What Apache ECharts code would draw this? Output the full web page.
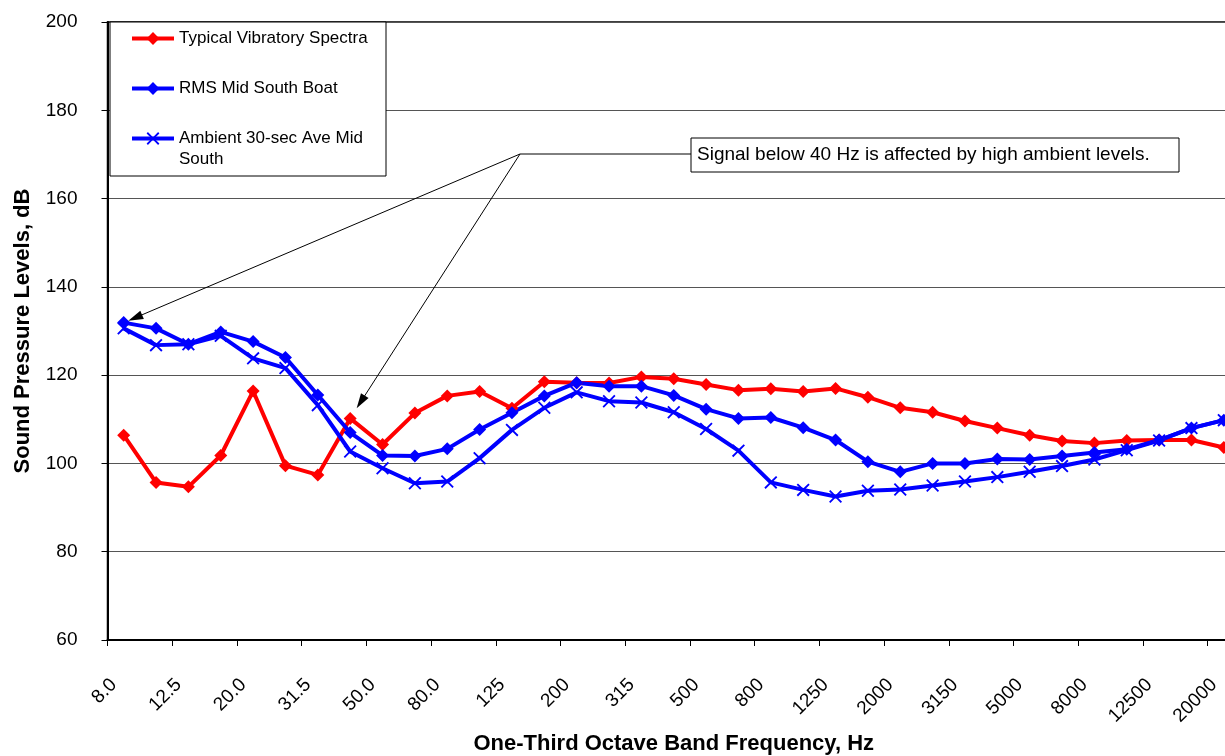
<!DOCTYPE html>
<html>
<head>
<meta charset="utf-8">
<script src="https://cdn.jsdelivr.net/npm/echarts@6/dist/echarts.min.js"></script>
<style>
  html, body { margin: 0; padding: 0; background: #fff; overflow: hidden; }
  /* the plot frame runs a little past the right edge, so the chart is clipped by its frame */
  #frame { position: relative; width: 1225px; height: 756px; overflow: hidden; }
  #chart { position: absolute; left: 0; top: 0; width: 1240px; height: 756px; }
</style>
</head>
<body>
<div id="frame"><div id="chart"></div></div>
<script>
// One-third octave band centre frequencies, Hz
const bands = ['8.0','10.0','12.5','16.0','20.0','25.0','31.5','40.0','50.0','63.0',
  '80.0','100','125','160','200','250','315','400','500','630',
  '800','1000','1250','1600','2000','2500','3150','4000','5000','6300',
  '8000','10000','12500','16000','20000'];

// Sound pressure levels, dB
const typicalVibratory = [106.4, 95.7, 94.7, 101.8, 116.4, 99.5, 97.4, 110.2, 104.3, 111.4,
  115.3, 116.3, 112.5, 118.5, 118.3, 118.2, 119.6, 119.2, 117.9, 116.6,
  116.9, 116.3, 117.0, 115.0, 112.6, 111.6, 109.6, 108.0, 106.4, 105.1,
  104.6, 105.2, 105.3, 105.3, 103.6];
const rmsMidSouth = [131.9, 130.6, 127.0, 129.8, 127.6, 124.0, 115.5, 107.0, 101.8, 101.7,
  103.3, 107.7, 111.5, 115.3, 118.3, 117.5, 117.5, 115.4, 112.3, 110.2,
  110.4, 108.1, 105.3, 100.4, 98.1, 100.0, 100.0, 101.0, 100.9, 101.7,
  102.5, 103.2, 105.3, 108.0, 109.8];
const ambientMidSouth = [130.6, 126.8, 127.0, 128.9, 123.8, 121.6, 113.2, 102.7, 98.9, 95.5,
  95.9, 101.2, 107.6, 112.6, 116.1, 114.1, 113.8, 111.6, 107.8, 102.9,
  95.7, 94.0, 92.5, 93.8, 94.1, 95.0, 95.9, 96.9, 98.1, 99.4,
  100.9, 103.0, 105.2, 108.0, 109.8];

const seriesNames = ['Typical Vibratory Spectra', 'RMS Mid South Boat', 'Ambient 30-sec Ave Mid South'];
const yTicks = { min: 60, max: 200, interval: 20 };
const noteText = 'Signal below 40 Hz is affected by high ambient levels.';

const FONT = '"Liberation Sans", Arial, Helvetica, sans-serif';
const RED = '#ff0000';
const BLUE = '#0000ff';
const CROSS = 'path://M1,0 L5,4 L9,0 L10,1 L6,5 L10,9 L9,10 L5,6 L1,10 L0,9 L4,5 L0,1 Z';

function lineSeries(name, data, color, symbol) {
  return {
    name: name,
    type: 'line',
    data: data,
    symbol: symbol,
    symbolSize: 13,
    showAllSymbol: true,
    lineStyle: { color: color, width: 4 },
    itemStyle: { color: color },
    emphasis: { disabled: true }
  };
}

// one legend block per entry so each row sits where it should inside the frame
const legendTops = [28, 78, 107];
const legends = seriesNames.map(function (name, i) {
  return {
    data: [name],
    orient: 'vertical',
    left: 130,
    top: legendTops[i],
    padding: 0,
    itemWidth: 42,
    itemHeight: 16,
    z: 4,
    lineStyle: { width: 4 },
    formatter: function (n) { return n === seriesNames[2] ? ' \nAmbient 30-sec Ave Mid\nSouth' : n; },
    textStyle: { fontFamily: FONT, fontSize: 17, color: '#000', lineHeight: 21 },
    selectedMode: false
  };
});

const option = {
  animation: false,
  backgroundColor: '#fff',
  grid: {
    left: 107.5, right: 0, top: 22, bottom: 116,
    outerBoundsMode: 'none',
    show: true, borderColor: '#000', borderWidth: 1.5, backgroundColor: 'transparent'
  },
  legend: legends,
  xAxis: {
    type: 'category',
    data: bands,
    boundaryGap: true,
    name: 'One-Third Octave Band Frequency, Hz',
    nameLocation: 'middle',
    nameGap: 93,
    nameTextStyle: { fontFamily: FONT, fontSize: 22, fontWeight: 'bold', color: '#000' },
    axisLine: { lineStyle: { color: '#000', width: 2 } },
    axisTick: { show: true, interval: 1, length: 6, lineStyle: { color: '#000', width: 1 } },
    axisLabel: { interval: 1, rotate: 45, margin: 32, padding: [0, 14, 0, 0], fontFamily: FONT, fontSize: 19, color: '#000' },
    splitLine: { show: false }
  },
  yAxis: {
    type: 'value',
    min: yTicks.min, max: yTicks.max, interval: yTicks.interval,
    name: 'Sound Pressure Levels, dB',
    nameLocation: 'middle',
    nameGap: 74,
    nameRotate: 90,
    nameTextStyle: { fontFamily: FONT, fontSize: 22, fontWeight: 'bold', color: '#000' },
    axisLine: { show: true, lineStyle: { color: '#000', width: 2 } },
    axisTick: { show: true, length: 6, lineStyle: { color: '#000', width: 1 } },
    axisLabel: { margin: 30, fontFamily: FONT, fontSize: 19, color: '#000' },
    splitLine: { show: true, lineStyle: { color: '#555', width: 1.2 } }
  },
  series: [
    lineSeries(seriesNames[0], typicalVibratory, RED, 'diamond'),
    lineSeries(seriesNames[1], rmsMidSouth, BLUE, 'diamond'),
    lineSeries(seriesNames[2], ambientMidSouth, BLUE, CROSS)
  ]
};

const chart = echarts.init(document.getElementById('chart'), null, { renderer: 'canvas' });
chart.setOption(option);

// Legend frame and the annotation with its two leader arrows
const legendBox = { x: 110, y: 22, w: 276, h: 154 };
const noteBox = { x: 691, y: 138, w: 488, h: 34 };
const elbow = [520, 154];
const arrowTargets = [
  { values: rmsMidSouth, index: 0, back: 5 },
  { values: typicalVibratory, index: 7, back: 12 }
];

const graphics = [
  {
    type: 'rect', z: 3, silent: true,
    shape: { x: legendBox.x, y: legendBox.y, width: legendBox.w, height: legendBox.h },
    style: { fill: '#fff', stroke: '#000', lineWidth: 1 }
  },
  {
    type: 'rect', z: 10, silent: true,
    shape: { x: noteBox.x, y: noteBox.y, width: noteBox.w, height: noteBox.h },
    style: { fill: '#fff', stroke: '#000', lineWidth: 1 }
  },
  {
    type: 'text', z: 11, silent: true,
    x: noteBox.x + 6, y: noteBox.y + noteBox.h / 2,
    style: { text: noteText, fontFamily: FONT, fontSize: 19, fill: '#000', verticalAlign: 'middle', align: 'left' }
  },
  {
    type: 'line', z: 10, silent: true,
    shape: { x1: elbow[0], y1: elbow[1], x2: noteBox.x, y2: elbow[1] },
    style: { stroke: '#000', lineWidth: 1 }
  }
];

arrowTargets.forEach(function (t) {
  const p = chart.convertToPixel({ gridIndex: 0 }, [t.index, t.values[t.index]]);
  const dx = p[0] - elbow[0], dy = p[1] - elbow[1];
  const len = Math.sqrt(dx * dx + dy * dy);
  const ux = dx / len, uy = dy / len;
  const tip = [p[0] - ux * t.back, p[1] - uy * t.back];
  const headLen = 15, headHalf = 4.5;
  const base = [tip[0] - ux * headLen, tip[1] - uy * headLen];
  graphics.push({
    type: 'line', z: 10, silent: true,
    shape: { x1: elbow[0], y1: elbow[1], x2: base[0] + ux * 2, y2: base[1] + uy * 2 },
    style: { stroke: '#000', lineWidth: 1 }
  });
  graphics.push({
    type: 'polygon', z: 10, silent: true,
    shape: { points: [tip, [base[0] - uy * headHalf, base[1] + ux * headHalf], [base[0] + uy * headHalf, base[1] - ux * headHalf]] },
    style: { fill: '#000' }
  });
});

chart.setOption({ graphic: graphics });
</script>
</body>
</html>
